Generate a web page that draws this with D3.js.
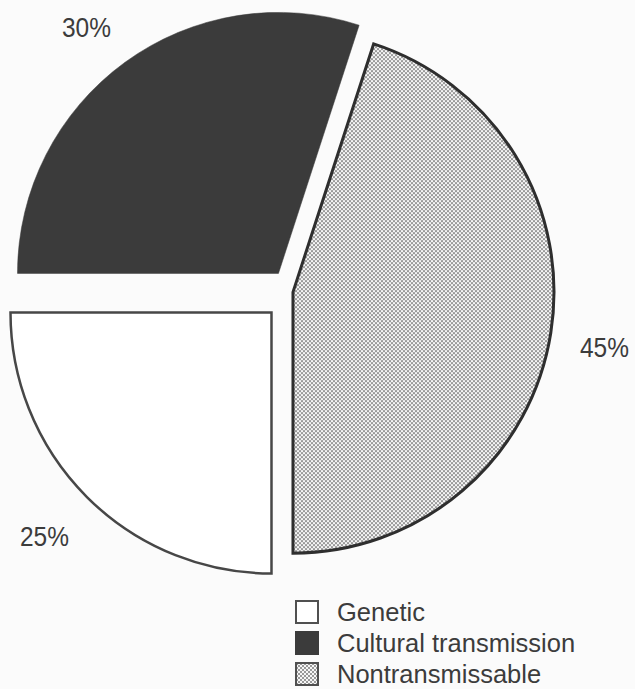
<!DOCTYPE html>
<html>
<head>
<meta charset="utf-8">
<script src="https://cdn.jsdelivr.net/npm/d3@7"></script>
<style>
  html, body { margin: 0; padding: 0; background: #fbfbfb; }
  svg { display: block; }
</style>
</head>
<body>
<svg id="chart" width="635" height="689"></svg>
<script>
// Shares of variance by source
const categories = ["Genetic", "Cultural transmission", "Nontransmissable"];
const shares = [25, 30, 45];
const shareLabels = ["25%", "30%", "45%"];

// Layout
const W = 635, H = 689;
const cx = 292, cy = 292, radius = 261;
const explode = [29, 23, 1];           // how far each wedge is pulled out along its bisector
const labelPos = [[20, 546], [62, 37], [580, 357]];

const svg = d3.select("#chart");

// stipple fill for the nontransmissable wedge
const defs = svg.append("defs");
const pat = defs.append("pattern")
  .attr("id", "stipple")
  .attr("patternUnits", "userSpaceOnUse")
  .attr("width", 4).attr("height", 4);
pat.append("rect").attr("width", 4).attr("height", 4).attr("fill", "#f6f6f6");
pat.append("rect").attr("x", 0).attr("y", 0).attr("width", 2).attr("height", 2).attr("fill", "#999999");
pat.append("rect").attr("x", 2).attr("y", 2).attr("width", 2).attr("height", 2).attr("fill", "#999999");

const styles = [
  { fill: "#ffffff", stroke: "#474747", width: 2.5 },
  { fill: "#3b3b3b", stroke: "#3b3b3b", width: 0.5 },
  { fill: "url(#stipple)", stroke: "#2e2e2e", width: 3 }
];

const pie = d3.pie().sort(null)
  .startAngle(Math.PI).endAngle(3 * Math.PI);
const arcs = pie(shares);
const arc = d3.arc().innerRadius(0).outerRadius(radius);

const g = svg.append("g").attr("transform", `translate(${cx},${cy})`);

g.selectAll("path.slice")
  .data(arcs)
  .join("path")
  .attr("class", "slice")
  .attr("d", arc)
  .attr("transform", (d, i) => {
    const a = (d.startAngle + d.endAngle) / 2;
    const dx = Math.sin(a) * explode[i];
    const dy = -Math.cos(a) * explode[i];
    return `translate(${dx},${dy})`;
  })
  .attr("fill", (d, i) => styles[i].fill)
  .attr("stroke", (d, i) => styles[i].stroke)
  .attr("stroke-width", (d, i) => styles[i].width)
  .attr("stroke-linejoin", "miter");

// percentage labels (slightly condensed face)
svg.selectAll("text.pct")
  .data(shareLabels)
  .join("text")
  .attr("class", "pct")
  .attr("x", (d, i) => labelPos[i][0])
  .attr("y", (d, i) => labelPos[i][1])
  .attr("font-family", "Liberation Sans, Arial, sans-serif")
  .attr("font-size", 28)
  .attr("textLength", 49)
  .attr("lengthAdjust", "spacingAndGlyphs")
  .attr("fill", "#3c3c3c")
  .text(d => d);

// legend
const legend = svg.append("g").attr("transform", "translate(296,601)");
const rowH = 31;
const items = legend.selectAll("g.item")
  .data(categories)
  .join("g")
  .attr("class", "item")
  .attr("transform", (d, i) => `translate(0,${i * rowH})`);

items.append("rect")
  .attr("x", 0).attr("y", 0)
  .attr("width", 22).attr("height", 22)
  .attr("fill", (d, i) => styles[i].fill)
  .attr("stroke", (d, i) => i === 1 ? "#3b3b3b" : "#505050")
  .attr("stroke-width", 2);

items.append("text")
  .attr("x", 41)
  .attr("y", 20)
  .attr("font-family", "Liberation Sans, Arial, sans-serif")
  .attr("font-size", 25.5)
  .attr("fill", "#3c3c3c")
  .text(d => d);
</script>
</body>
</html>
